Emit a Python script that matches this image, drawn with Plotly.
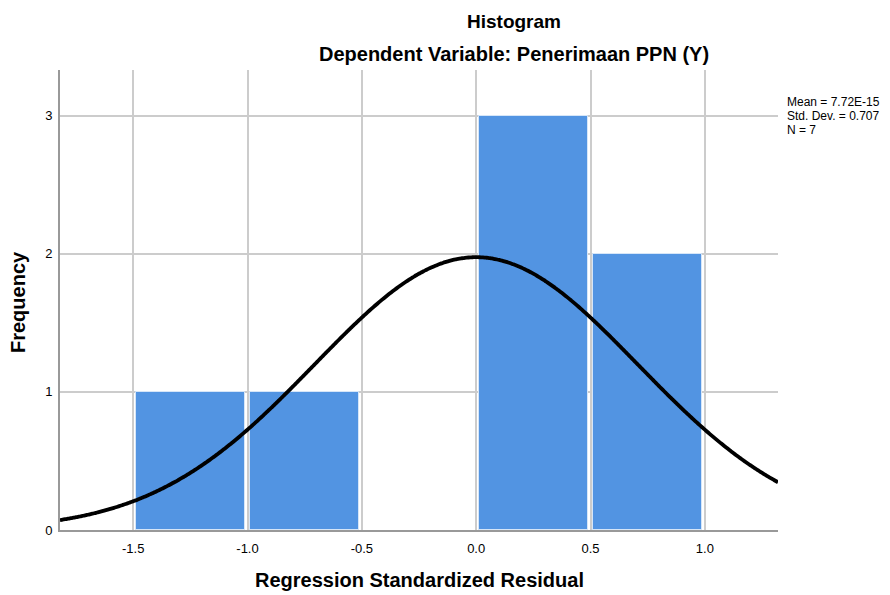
import numpy as np
import plotly.graph_objects as go

# Data
bin_centers = [-1.25, -0.75, -0.25, 0.25, 0.75]
frequencies = [1, 1, 0, 3, 2]
bin_width = 0.5
x_ticks = [-1.5, -1.0, -0.5, 0.0, 0.5, 1.0]
x_tick_labels = ["-1.5", "-1.0", "-0.5", "0.0", "0.5", "1.0"]
y_ticks = [0, 1, 2, 3]
stat_mean = 7.72e-15
stat_sd = 0.707
stat_n = 7
stat_lines = ["Mean = 7.72E-15", "Std. Dev. = 0.707", "N = 7"]

x_range = [-1.82, 1.32]
y_range = [0, 3.33]

# Normal curve from displayed statistics
cx = np.linspace(x_range[0], x_range[1], 400)
cy = stat_n * bin_width / (stat_sd * np.sqrt(2 * np.pi)) * np.exp(-((cx - stat_mean) ** 2) / (2 * stat_sd ** 2))

fig = go.Figure()
fig.add_trace(go.Bar(
    x=bin_centers, y=frequencies, width=bin_width * 0.95,
    marker=dict(color="#5294E2",
                line=dict(color="#d6e6f8", width=[1 if f > 0 else 0 for f in frequencies])),
    showlegend=False, hoverinfo="skip",
))
fig.add_trace(go.Scatter(
    x=cx, y=cy, mode="lines", line=dict(color="black", width=3.8, shape="spline"),
    showlegend=False, hoverinfo="skip",
))

annotations = [
    dict(text="<b>Histogram</b>", xref="paper", yref="paper", x=0.632, y=1.0,
         yshift=49, xanchor="center", yanchor="middle", showarrow=False, font=dict(size=19)),
    dict(text="<b>Dependent Variable: Penerimaan PPN (Y)</b>", xref="paper", yref="paper",
         x=0.632, y=1.0, yshift=16, xanchor="center", yanchor="middle", showarrow=False, font=dict(size=20)),
    dict(text="<b>Regression Standardized Residual</b>", xref="paper", yref="paper",
         x=0.5, y=0.0, yshift=-50, xanchor="center", yanchor="middle", showarrow=False, font=dict(size=20)),
    dict(text="<b>Frequency</b>", xref="paper", yref="paper", textangle=-90,
         x=0.0, y=0.5, xshift=-42, yshift=-2, xanchor="center", yanchor="middle", showarrow=False, font=dict(size=20)),
]
for i, s in enumerate(stat_lines):
    annotations.append(dict(text=s, xref="paper", yref="y", x=1.0, y=3.0, xshift=7,
                            yshift=13.5 - 14.2 * i, xanchor="left", yanchor="middle", align="left",
                            showarrow=False, font=dict(size=12)))

fig.update_layout(
    width=874, height=587,
    margin=dict(l=52, r=104, t=62, b=65),
    paper_bgcolor="white", plot_bgcolor="white",
    font=dict(family="Liberation Sans, Arial, sans-serif", color="black"),
    bargap=0,
    xaxis=dict(
        range=x_range, tickvals=x_ticks, ticktext=x_tick_labels,
        showgrid=True, gridcolor="#cccccc", gridwidth=1.5,
        zeroline=False, showline=True, linecolor="#999999", linewidth=2,
        ticks="", tickfont=dict(size=13), ticklabelstandoff=5,
    ),
    yaxis=dict(
        range=y_range, tickvals=y_ticks,
        showgrid=True, gridcolor="#cccccc", gridwidth=1.5,
        zeroline=False, showline=True, linecolor="#999999", linewidth=2,
        ticks="", tickfont=dict(size=13), ticklabelstandoff=3,
    ),
    annotations=annotations,
)

fig.write_html("out.html")
